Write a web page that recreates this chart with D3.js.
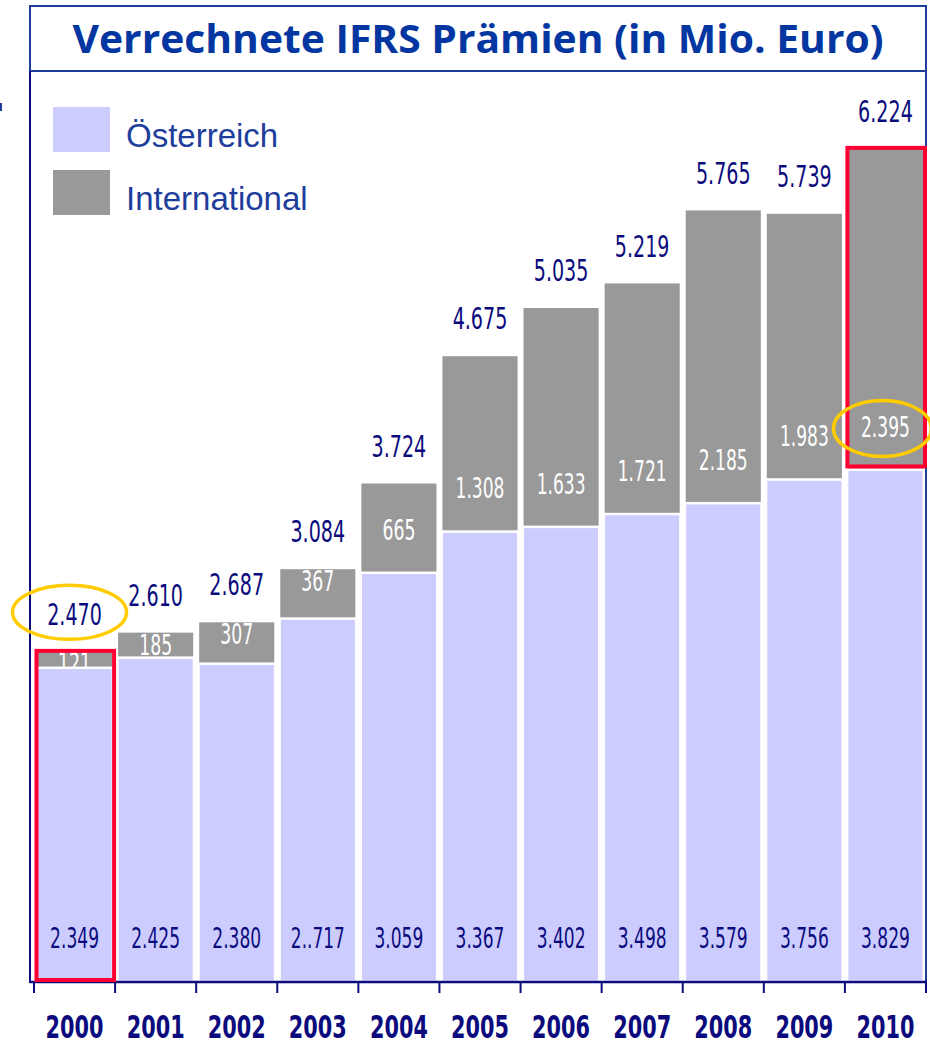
<!DOCTYPE html>
<meta charset="utf-8">
<script src="https://d3js.org/d3.v7.min.js"></script>
<style>
  body { margin: 0; background: #fff; }
</style>
<body>
<div id="chart"></div>
<script>

// data (Mio. Euro)
var years = ["2000", "2001", "2002", "2003", "2004", "2005", "2006", "2007", "2008", "2009", "2010"];
var oesterreich = [2349, 2425, 2380, 2717, 3059, 3367, 3402, 3498, 3579, 3756, 3829];
var international = [121, 185, 307, 367, 665, 1308, 1633, 1721, 2185, 1983, 2395];
var totalLabels = ["2.470", "2.610", "2.687", "3.084", "3.724", "4.675", "5.035", "5.219", "5.765", "5.739", "6.224"];
var oestLabels = ["2.349", "2.425", "2.380", "2..717", "3.059", "3.367", "3.402", "3.498", "3.579", "3.756", "3.829"];
var intLabels = ["121", "185", "307", "367", "665", "1.308", "1.633", "1.721", "2.185", "1.983", "2.395"];
var seriesNames = ["Österreich", "International"];

var W = 930, H = 1045;
var colOest = "#ccccff", colInt = "#999999";
var navy = "#0b0b7d", blue = "#1e3e9b";
var narrow = "'Liberation Sans Narrow', 'DejaVu Sans Condensed', 'Arial Narrow', sans-serif";

var svg = d3.select("#chart").append("svg")
    .attr("width", W)
    .attr("height", H);

var x = d3.scaleBand()
  .domain(years)
  .range([34, 926])
  .padding(0);

var y = d3.scaleLinear()
  .domain([0, 7000])
  .range([982, 45]);

var data = years.map(function(yr, i) {
  return {year: yr, oest: oesterreich[i], int: international[i],
          total: oesterreich[i] + international[i],
          tl: totalLabels[i], ol: oestLabels[i], il: intLabels[i]};
});

// text helper: squeezes the text to a target digit width, y is vertical centre
function label(g, cx, cy, txt, size, digitW, color, weight) {
  var t = g.append("text")
    .attr("text-anchor", "middle")
    .style("font-family", narrow)
    .style("font-size", size + "px")
    .style("font-weight", weight || "normal")
    .style("fill", color)
    .text(txt);
  var nDig = txt.replace(/[^0-9]/g, "").length;
  var nDot = txt.length - nDig;
  var target = nDig * digitW + nDot * digitW * 0.45;
  var w = t.node().getComputedTextLength() || target;
  var sx = target / w;
  t.attr("transform", "translate(" + cx + "," + (cy + size * 0.36) + ") scale(" + sx + ",1)");
  return t;
}

var inset = 3;
var bars = svg.append("g");

// International (grey) segments
bars.selectAll("rect.int")
  .data(data)
  .enter().append("rect")
    .attr("class", "int")
    .attr("x", function(d) { return x(d.year) + inset; })
    .attr("y", function(d) { return y(d.total); })
    .attr("width", x.bandwidth() - 2 * inset)
    .attr("height", function(d) { return y(d.oest) - y(d.total) - 1; })
    .attr("fill", colInt);

// labels inside grey segments
data.forEach(function(d) {
  var top = y(d.total), bot = y(d.oest);
  var cy = Math.max(top + 12, bot - 43);
  label(bars, x(d.year) + x.bandwidth() / 2, cy, d.il, 28, 11, "#fff");
});

// Österreich segments
bars.selectAll("rect.oest")
  .data(data)
  .enter().append("rect")
    .attr("class", "oest")
    .attr("x", function(d) { return x(d.year) + inset; })
    .attr("y", function(d) { return y(d.oest) + 1; })
    .attr("width", x.bandwidth() - 2 * inset)
    .attr("height", function(d) { return y(0) - y(d.oest) - 2; })
    .attr("fill", colOest)
    .attr("stroke", "#fff")
    .attr("stroke-width", 1);

data.forEach(function(d) {
  label(bars, x(d.year) + x.bandwidth() / 2, y(0) - 44, d.ol, 28, 11, navy);
  label(bars, x(d.year) + x.bandwidth() / 2, y(d.total) - 38, d.tl, 31, 12.3, navy);
});

// frame and title
var frame = svg.append("g").attr("fill", "none");
frame.append("rect")
  .attr("x", 30).attr("y", 6).attr("width", 896).attr("height", 65)
  .attr("stroke", blue).attr("stroke-width", 2);
frame.append("line")
  .attr("x1", 30).attr("x2", 30).attr("y1", 71).attr("y2", 983)
  .attr("stroke", navy).attr("stroke-width", 2);
frame.append("line")
  .attr("x1", 926).attr("x2", 926).attr("y1", 71).attr("y2", 983)
  .attr("stroke", blue).attr("stroke-width", 2);
svg.append("rect").attr("x", 0).attr("y", 103).attr("width", 2).attr("height", 8).attr("fill", blue);

svg.append("text")
  .attr("x", 478)
  .attr("y", 53)
  .attr("text-anchor", "middle")
  .attr("textLength", 811)
  .attr("lengthAdjust", "spacingAndGlyphs")
  .style("font-family", "'Open Sans', 'Noto Sans', sans-serif")
  .style("font-weight", "bold")
  .style("font-size", "40px")
  .style("fill", "#0336a0")
  .text("Verrechnete IFRS Prämien (in Mio. Euro)");

// x axis
var axis = svg.append("g");
axis.append("line")
  .attr("x1", 30).attr("x2", 927).attr("y1", 982).attr("y2", 982)
  .attr("stroke", navy).attr("stroke-width", 2.5);
var ticks = years.map(function(yr) { return x(yr); }).concat([x.range()[1]]);
axis.selectAll("line.tick")
  .data(ticks)
  .enter().append("line")
    .attr("class", "tick")
    .attr("x1", function(d) { return d; }).attr("x2", function(d) { return d; })
    .attr("y1", 982).attr("y2", 993)
    .attr("stroke", navy).attr("stroke-width", 2);
years.forEach(function(yr) {
  label(axis, x(yr) + x.bandwidth() / 2, 1027, yr, 31.5, 14.5, navy, "bold");
});

// legend
var legend = svg.append("g");
[colOest, colInt].forEach(function(c, i) {
  legend.append("rect")
    .attr("x", 53).attr("y", 107 + i * 63)
    .attr("width", 57).attr("height", 45)
    .attr("fill", c);
  legend.append("text")
    .attr("x", 126).attr("y", 147 + i * 63)
    .style("font-family", "'Liberation Sans', Arial, sans-serif")
    .style("font-size", "33px")
    .style("fill", blue)
    .text(seriesNames[i]);
});

// highlight annotations
var ann = svg.append("g").attr("fill", "none");
var d0 = data[0], dN = data[data.length - 1];
ann.append("rect")
  .attr("x", x(d0.year) + 2.5).attr("y", y(d0.total) - 0.5)
  .attr("width", x.bandwidth() - 3.5).attr("height", y(0) - 2 - y(d0.total) + 0.5)
  .attr("stroke", "#ff0033").attr("stroke-width", 4);
ann.append("rect")
  .attr("x", x(dN.year) + 2.5).attr("y", y(dN.total) - 1)
  .attr("width", x.bandwidth() - 3.5).attr("height", y(dN.oest) - y(dN.total) - 2)
  .attr("stroke", "#ff0033").attr("stroke-width", 4);
ann.append("ellipse")
  .attr("cx", x(d0.year) + x.bandwidth() / 2 - 5).attr("cy", y(d0.total) - 39)
  .attr("rx", 57).attr("ry", 27)
  .attr("stroke", "#ffcc00").attr("stroke-width", 3.5);
ann.append("ellipse")
  .attr("cx", x(dN.year) + x.bandwidth() / 2 - 3).attr("cy", y(dN.oest) - 41)
  .attr("rx", 49).attr("ry", 28)
  .attr("stroke", "#ffcc00").attr("stroke-width", 3.5);

</script>
</body>
